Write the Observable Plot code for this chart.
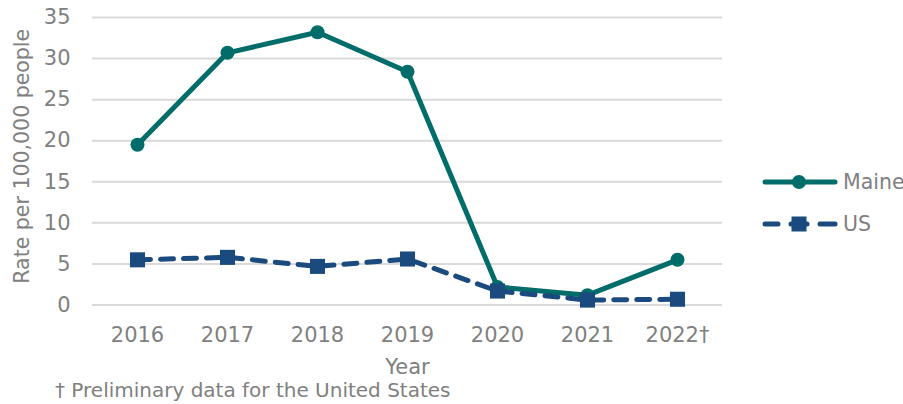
<!DOCTYPE html>
<html>
<head>
<meta charset="utf-8">
<script src="https://cdn.jsdelivr.net/npm/d3@7"></script>
<script src="https://cdn.jsdelivr.net/npm/@observablehq/plot@0.6"></script>
<style>
  html, body { margin: 0; padding: 0; background: #fff; }
  #wrap { position: relative; width: 903px; height: 404px; font-family: "DejaVu Sans", sans-serif; color: #808080; }
  #caption { position: absolute; left: 55px; top: 380px; font-size: 20px; line-height: 20px; white-space: nowrap; }
  .leg { position: absolute; left: 762px; height: 24px; display: flex; align-items: center; font-size: 20.5px; }
  .leg span { margin-left: 5px; }
</style>
</head>
<body>
<div id="wrap"></div>
<script>
const years = ["2016", "2017", "2018", "2019", "2020", "2021", "2022†"];
const maine = [19.5, 30.7, 33.2, 28.4, 2.2, 1.2, 5.5];
const us = [5.5, 5.8, 4.7, 5.6, 1.7, 0.6, 0.7];
const yTicks = [0, 5, 10, 15, 20, 25, 30, 35];
const seriesNames = ["Maine", "US"];
const colors = ["#006d6a", "#1b4a7e"];
const yLabel = "Rate per 100,000 people";
const xLabel = "Year";
const captionText = "† Preliminary data for the United States";

const maineData = years.map((y, i) => ({year: y, value: maine[i]}));
const usData = years.map((y, i) => ({year: y, value: us[i]}));

const chart = Plot.plot({
  width: 903,
  height: 404,
  marginLeft: 92,
  marginRight: 181,
  marginTop: 17,
  marginBottom: 99.5,
  style: {fontFamily: "DejaVu Sans, sans-serif", fontSize: "21px", color: "#808080", background: "transparent", overflow: "visible"},
  x: {type: "point", domain: years, padding: 0.5},
  y: {domain: [0, 35]},
  marks: [
    Plot.ruleY(yTicks, {stroke: "#d9d9d9", strokeWidth: 2}),
    Plot.axisY({ticks: yTicks, tickSize: 0, tickPadding: 22, label: null, fontSize: 21}),
    Plot.axisX({tickSize: 0, tickPadding: 22, label: null, fontSize: 21}),
    Plot.text([yLabel], {frameAnchor: "left", rotate: -90, dx: -70, dy: -5, textAnchor: "middle", lineAnchor: "middle", fontSize: 20.5, fill: "#808080"}),
    Plot.text([xLabel], {frameAnchor: "bottom", dy: 54, lineAnchor: "top", fontSize: 21, fill: "#808080"}),
    Plot.line(maineData, {x: "year", y: "value", stroke: colors[0], strokeWidth: 5, strokeLinejoin: "round", strokeLinecap: "round"}),
    Plot.dot(maineData, {x: "year", y: "value", r: 7, fill: colors[0], symbol: "circle"}),
    Plot.line(usData, {x: "year", y: "value", stroke: colors[1], strokeWidth: 5, strokeDasharray: "13,10", strokeLinecap: "round", strokeLinejoin: "round"}),
    Plot.dot(usData, {x: "year", y: "value", r: 8.5, fill: colors[1], symbol: "square"})
  ]
});

const wrap = document.getElementById("wrap");
wrap.appendChild(chart);

const cap = document.createElement("div");
cap.id = "caption";
cap.textContent = captionText;
wrap.appendChild(cap);

// Legend
const legTops = [170, 212];
seriesNames.forEach((name, i) => {
  const d = document.createElement("div");
  d.className = "leg";
  d.style.top = legTops[i] + "px";
  let sw;
  if (i === 0) {
    sw = `<svg width="76" height="24"><line x1="3" y1="12" x2="73" y2="12" stroke="${colors[0]}" stroke-width="5" stroke-linecap="round"/><circle cx="37" cy="12" r="7" fill="${colors[0]}"/></svg>`;
  } else {
    sw = `<svg width="76" height="24"><line x1="3" y1="12" x2="16" y2="12" stroke="${colors[1]}" stroke-width="5" stroke-linecap="round"/><line x1="29" y1="12" x2="45" y2="12" stroke="${colors[1]}" stroke-width="5" stroke-linecap="round"/><line x1="58" y1="12" x2="73" y2="12" stroke="${colors[1]}" stroke-width="5" stroke-linecap="round"/><rect x="29.5" y="4.5" width="15" height="15" fill="${colors[1]}"/></svg>`;
  }
  d.innerHTML = sw + `<span>${name}</span>`;
  wrap.appendChild(d);
});
</script>
</body>
</html>
